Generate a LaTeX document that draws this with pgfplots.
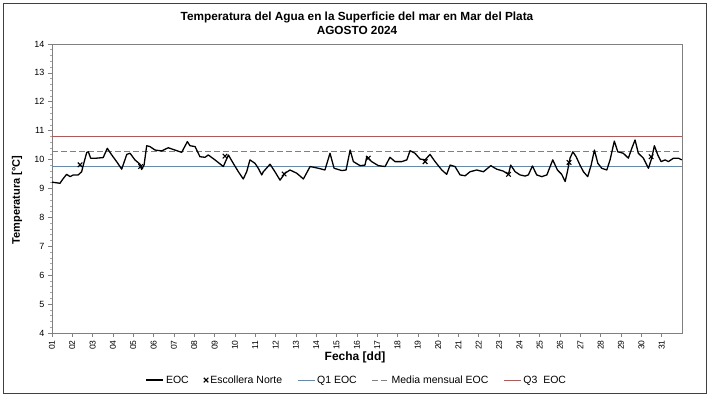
\documentclass[border=0pt]{standalone}
\usepackage{fontspec}
\setmainfont{Liberation Sans}
\usepackage{pgfplots}
\pgfplotsset{compat=1.18}
\definecolor{qone}{RGB}{74,144,206}
\definecolor{qthree}{RGB}{232,64,64}
\definecolor{axgray}{RGB}{128,128,128}
\definecolor{meangray}{RGB}{128,128,128}

\pgfplotstableread{
x y
1.00 9.22
1.39 9.18
1.56 9.35
1.72 9.49
1.89 9.41
2.05 9.47
2.29 9.47
2.46 9.58
2.54 9.81
2.71 10.25
2.79 10.27
2.90 10.05
3.20 10.05
3.52 10.07
3.72 10.39
3.94 10.16
4.18 9.93
4.43 9.67
4.68 10.18
4.84 10.22
5.08 9.99
5.33 9.84
5.41 9.66
5.53 9.81
5.66 10.48
5.82 10.45
6.07 10.33
6.40 10.30
6.72 10.41
7.05 10.33
7.38 10.25
7.66 10.62
7.79 10.48
8.04 10.45
8.28 10.10
8.53 10.08
8.69 10.16
9.02 9.99
9.43 9.76
9.68 10.16
9.92 9.87
10.17 9.58
10.41 9.33
10.58 9.58
10.74 9.99
10.99 9.87
11.15 9.70
11.32 9.47
11.40 9.58
11.73 9.84
11.97 9.58
12.22 9.29
12.47 9.53
12.71 9.64
13.04 9.53
13.37 9.33
13.70 9.76
14.11 9.70
14.43 9.64
14.68 10.22
14.88 9.70
15.26 9.62
15.47 9.64
15.67 10.33
15.83 9.93
16.16 9.79
16.40 9.81
16.49 10.10
16.73 9.93
17.06 9.79
17.39 9.76
17.63 10.08
17.88 9.93
18.21 9.93
18.46 9.99
18.62 10.31
18.86 10.22
19.11 10.02
19.36 9.99
19.60 10.18
19.85 9.93
20.18 9.64
20.42 9.49
20.59 9.81
20.83 9.76
21.08 9.47
21.33 9.44
21.57 9.58
21.90 9.64
22.23 9.58
22.59 9.79
22.88 9.67
23.21 9.60
23.46 9.49
23.57 9.81
23.79 9.58
24.03 9.47
24.28 9.43
24.44 9.47
24.64 9.78
24.85 9.47
25.10 9.41
25.35 9.47
25.64 9.99
25.87 9.64
26.08 9.49
26.25 9.24
26.36 9.58
26.49 10.05
26.63 10.27
26.79 10.10
26.98 9.81
27.15 9.58
27.36 9.41
27.53 9.81
27.69 10.33
27.86 9.87
28.05 9.70
28.30 9.64
28.46 9.99
28.67 10.64
28.84 10.27
29.11 10.22
29.36 10.05
29.53 10.39
29.69 10.68
29.85 10.22
30.10 10.05
30.35 9.70
30.51 10.05
30.64 10.48
30.81 10.16
30.97 9.93
31.17 9.99
31.33 9.93
31.58 10.05
31.82 10.05
31.99 9.99
}\eoc

\pgfplotstableread{
x y
2.38 9.82
5.36 9.76
9.51 10.12
12.42 9.50
16.56 10.05
19.36 9.93
23.46 9.49
26.44 9.90
30.48 10.10
}\escollera

\begin{document}
\begin{tikzpicture}
\useasboundingbox (-52pt,-65pt) rectangle (657pt,333pt);
\draw[black!75, line width=0.8pt] (-49pt,-60pt) rectangle (654pt,330pt);
\node[font=\bfseries\fontsize{11.8}{14}\selectfont, align=center] at (305pt,310pt)
  {Temperatura del Agua en la Superficie del mar en Mar del Plata\\AGOSTO 2024};
\begin{axis}[
  at={(0pt,0pt)}, anchor=south west,
  scale only axis, width=630pt, height=289pt,
  xmin=1, xmax=32, ymin=4, ymax=14,
  xtick={1,...,31},
  xticklabels={01,02,03,04,05,06,07,08,09,10,11,12,13,14,15,16,17,18,19,20,21,22,23,24,25,26,27,28,29,30,31},
  x tick label style={rotate=90, anchor=east, font=\fontsize{8.5}{9}\selectfont},
  ytick={4,5,...,14},
  y tick label style={font=\fontsize{9}{10}\selectfont},
  minor y tick num=4,
  xtick pos=bottom, ytick pos=left,
  tick align=outside,
  major tick length=4pt,
  minor tick length=2pt,
  every tick/.style={axgray, line width=0.6pt},
  every minor tick/.style={black!35, line width=0.6pt},
  axis line style={draw=axgray, line width=0.8pt},
  /pgf/number format/assume math mode=true,
  xlabel={Fecha [dd]},
  ylabel={Temperatura [°C]},
  xlabel style={font=\bfseries\fontsize{12}{13}\selectfont, at={(axis description cs:0.481,-0.083)}, anchor=center},
  ylabel style={font=\bfseries\fontsize{11}{12}\selectfont, at={(axis description cs:-0.0556,0.46)}, anchor=center},
  legend columns=5,
  legend style={draw=none, fill=none, font=\fontsize{10.5}{11}\selectfont,
    at={(0.484,-0.163)}, anchor=center,
    /tikz/every even column/.append style={column sep=13pt}},
  legend image code/.code={\draw[#1] (0pt,0pt) -- (17pt,0pt);},
  clip=true,
]
\addplot[qone, line width=1pt, forget plot] coordinates {(1,9.75) (32,9.75)};
\addplot[meangray, dashed, dash pattern=on 6pt off 3pt, line width=0.8pt, forget plot] coordinates {(1,10.27) (32,10.27)};
\addplot[qthree, line width=1pt, forget plot] coordinates {(1,10.79) (32,10.79)};
\addplot[black, line width=1.3pt, line join=round] table[x=x,y=y] {\eoc};
\addlegendentry{EOC}
\addplot[only marks, mark=x, mark size=3.2pt, black, line width=1.1pt,
  legend image code/.code={\draw[mark repeat=2,mark phase=2] plot coordinates {(0pt,0pt) (9pt,0pt) (17pt,0pt)};}] table[x=x,y=y] {\escollera};
\addlegendentry{Escollera Norte}
\addlegendimage{qone, line width=1pt}
\addlegendentry{Q1 EOC}
\addlegendimage{meangray, dashed, dash pattern=on 6pt off 3pt, line width=0.8pt}
\addlegendentry{Media mensual EOC}
\addlegendimage{qthree, line width=1pt}
\addlegendentry{Q3~ EOC}
\end{axis}
\end{tikzpicture}
\end{document}
